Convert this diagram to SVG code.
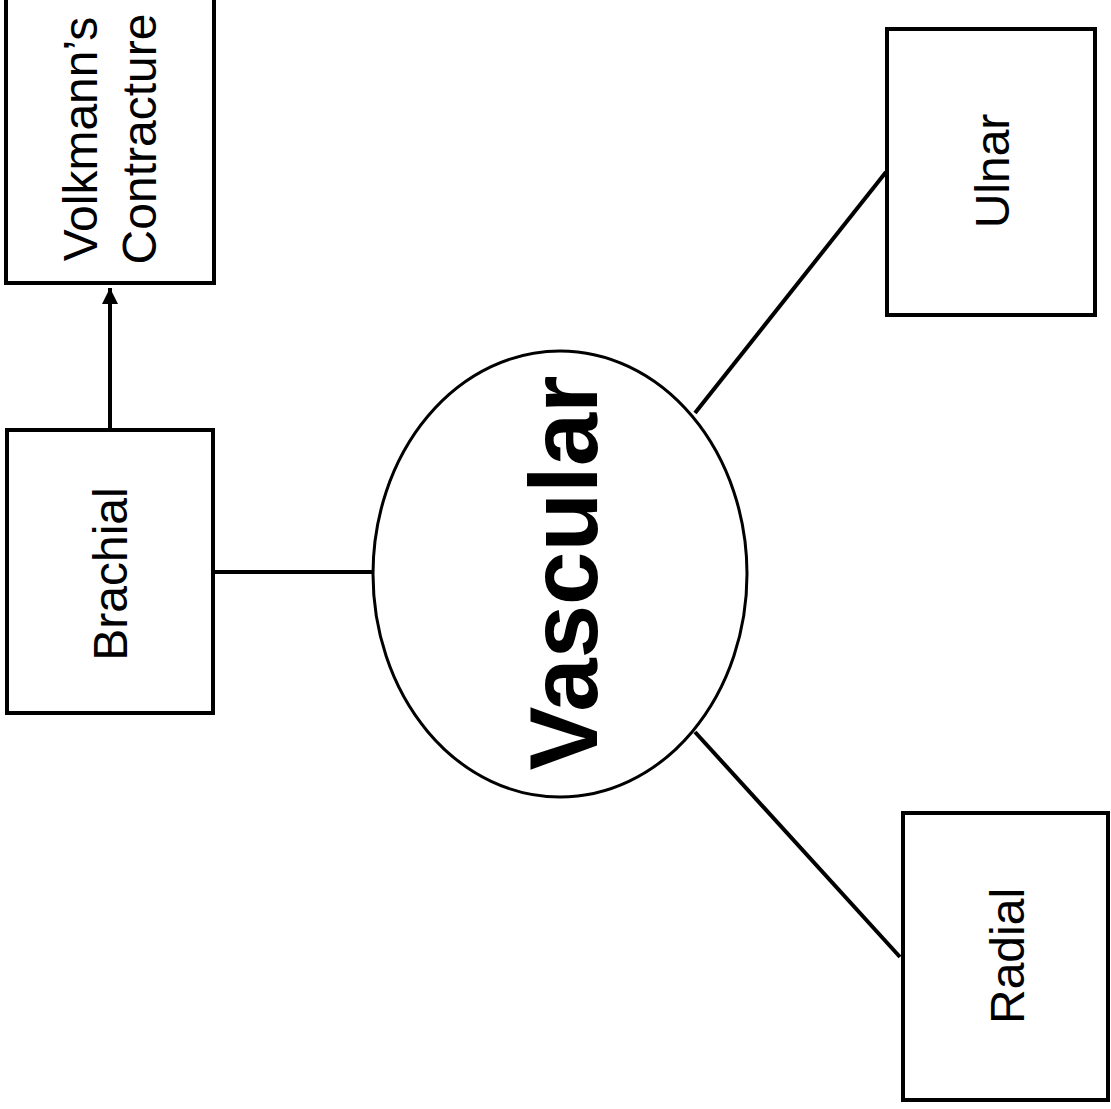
<svg xmlns="http://www.w3.org/2000/svg" width="1111" height="1109" viewBox="0 0 1111 1109">
<style>
.box{fill:#fff;stroke:#000;stroke-width:4}
.lbl{font-family:"Liberation Sans",Arial,sans-serif;font-size:48px;fill:#000;text-anchor:middle}
.conn{stroke:#000;stroke-width:4;fill:none}
</style>
<defs>
<marker id="ah" markerWidth="4" markerHeight="4" refX="4" refY="2" orient="auto" markerUnits="strokeWidth">
<path d="M0,0 L4,2 L0,4 z" fill="#000"/>
</marker>
</defs>
<rect width="1111" height="1109" fill="#fff"/>
<g id="connectors">
<line class="conn" x1="110" y1="428" x2="110" y2="288" marker-end="url(#ah)"/>
<line class="conn" x1="215" y1="572" x2="374" y2="572"/>
<line class="conn" x1="695" y1="413" x2="886" y2="172"/>
<line class="conn" x1="695" y1="732" x2="900" y2="957"/>
</g>
<g id="volkmann">
<rect class="box" x="6" y="-6" width="208" height="289"/>
<text class="lbl" transform="translate(97,139) rotate(-90)">Volkmann’s</text>
<text class="lbl" transform="translate(156,139) rotate(-90)">Contracture</text>
</g>
<g id="brachial">
<rect class="box" x="7" y="430" width="206" height="283"/>
<text class="lbl" transform="translate(127,574) rotate(-90)">Brachial</text>
</g>
<g id="vascular">
<ellipse cx="560" cy="574" rx="187" ry="223" fill="#fff" stroke="#000" stroke-width="3"/>
<text transform="translate(597,573) rotate(-90)" text-anchor="middle" font-family="'Liberation Sans',Arial,sans-serif" font-weight="bold" font-size="96">Vascular</text>
</g>
<g id="ulnar">
<rect class="box" x="887" y="29" width="208" height="286"/>
<text class="lbl" transform="translate(1009,171) rotate(-90)">Ulnar</text>
</g>
<g id="radial">
<rect class="box" x="903" y="813" width="205" height="287"/>
<text class="lbl" transform="translate(1024,956) rotate(-90)">Radial</text>
</g>
</svg>
